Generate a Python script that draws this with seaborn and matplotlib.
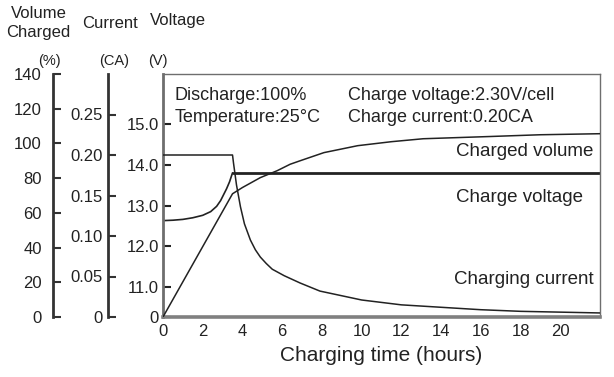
import numpy as np
import pandas as pd
import matplotlib
matplotlib.use("Agg")
import matplotlib.pyplot as plt
import seaborn as sns

# 充电曲线数据
cur_hours = [0, 3.5, 3.55, 3.7, 3.9, 4.1, 4.4, 4.65, 4.9, 5.2, 5.5, 6.1, 6.9, 7.9,
             10, 12, 14, 16, 18, 20, 22]
cur_ca = [0.20, 0.20, 0.19, 0.163, 0.136, 0.115, 0.095, 0.083, 0.074, 0.066, 0.059,
          0.051, 0.042, 0.032, 0.021, 0.015, 0.012, 0.009, 0.007, 0.006, 0.005]

volt_hours = [0, 0.5, 1.0, 1.5, 2.0, 2.4, 2.7, 2.9, 3.2, 3.35, 3.5, 22]
volt_v = [12.63, 12.64, 12.66, 12.70, 12.76, 12.85, 12.98, 13.12, 13.41, 13.58, 13.80, 13.80]

vol_hours = [0, 3.5, 4.0, 4.9, 5.75, 6.4, 6.9, 8.1, 9.8, 11.5, 13.1, 16.5, 19, 22]
vol_pct = [0, 71, 74.6, 80.3, 84.3, 88, 90, 94.7, 98.7, 101, 102.7, 104, 105, 105.6]

x_ticks = list(range(0, 21, 2))
volt_ticks = [11.0, 12.0, 13.0, 14.0, 15.0]
cur_ticks = [0, 0.05, 0.10, 0.15, 0.20, 0.25]
vol_ticks = list(range(0, 141, 20))

sns.set_theme(style="white")
plt.rcParams['font.family'] = ['Liberation Sans', 'DejaVu Sans']

W, H = 614, 377
ink = '#222222'
frame = '#6e6e6e'

fig = plt.figure(figsize=(W / 100, H / 100), dpi=100)
ax = fig.add_axes([163 / W, 1 - 317 / H, 437 / W, 243 / H])

# 电压轴（主轴）
v_lo, v_hi = 10.27, 16.22
sns.lineplot(x=volt_hours[:-1], y=volt_v[:-1], ax=ax, color=ink, lw=1.2)
sns.lineplot(x=volt_hours[-2:], y=volt_v[-2:], ax=ax, color=ink, lw=2.0)
ax.set_xlim(0, 22)
ax.set_ylim(v_lo, v_hi)
ax.set_xticks(x_ticks)
ax.set_xticklabels([str(t) for t in x_ticks])
ax.set_yticks([v_lo] + volt_ticks)
ax.set_yticklabels(['0'] + [f"{t:.1f}" for t in volt_ticks])
ax.tick_params(axis='both', direction='in', length=6, width=1.5, color=ink,
               labelsize=12, labelcolor=ink)
ax.tick_params(axis='y', pad=3)
ax.tick_params(axis='x', pad=5)
ax.set_xlabel('Charging time (hours)', fontsize=15, color=ink, labelpad=5)
ax.set_ylabel('')
for side in ['top', 'right']:
    ax.spines[side].set_color(frame)
    ax.spines[side].set_linewidth(1.0)
ax.spines['left'].set_color(frame)
ax.spines['left'].set_linewidth(2.0)
ax.spines['bottom'].set_color('#808080')
ax.spines['bottom'].set_linewidth(2.6)

# 电流轴
ax_cur = ax.twinx()
sns.lineplot(x=cur_hours, y=cur_ca, ax=ax_cur, color=ink, lw=1.1)
ax_cur.set_ylim(0, 0.30)
ax_cur.set_yticks(cur_ticks)
ax_cur.set_yticklabels(['0'] + [f"{t:.2f}" for t in cur_ticks[1:]])

# 充电量轴
ax_vol = ax.twinx()
sns.lineplot(x=vol_hours, y=vol_pct, ax=ax_vol, color=ink, lw=1.1)
ax_vol.set_ylim(0, 140)
ax_vol.set_yticks(vol_ticks)
ax_vol.set_yticklabels([str(t) for t in vol_ticks])

for tw, pos, pad in [(ax_cur, -55 / 437, 4), (ax_vol, -110 / 437, 8)]:
    for side in ['top', 'right', 'bottom']:
        tw.spines[side].set_visible(False)
    tw.spines['left'].set_visible(True)
    tw.spines['left'].set_position(('axes', pos))
    tw.spines['left'].set_color('#333333')
    tw.spines['left'].set_linewidth(2.0)
    tw.yaxis.tick_left()
    tw.yaxis.set_label_position('left')
    tw.set_ylabel('')
    tw.tick_params(axis='y', direction='in', length=6, width=1.5, color='#333333',
                   labelsize=12, labelcolor=ink, pad=pad)
    tw.set_xlim(0, 22)

# 标题文字
def ftext(x, y, s, size, ha='center'):
    fig.text(x / W, 1 - y / H, s, fontsize=size, color=ink, ha=ha, va='center')

ftext(39, 13, 'Volume', 12)
ftext(38, 33, 'Charged', 12)
ftext(110, 23, 'Current', 12)
ftext(178, 20, 'Voltage', 12)
ftext(49, 61, '(%)', 10.5)
ftext(114, 61, '(CA)', 10.5)
ftext(158, 61, '(V)', 10.5)

ftext(175, 95, 'Discharge:100%', 13, ha='left')
ftext(175, 118, 'Temperature:25°C', 13, ha='left')
ftext(348, 95, 'Charge voltage:2.30V/cell', 13, ha='left')
ftext(348, 118, 'Charge current:0.20CA', 13, ha='left')

ftext(593, 152, 'Charged volume', 13.5, ha='right')
ftext(583, 197, 'Charge voltage', 13.5, ha='right')
ftext(594, 280, 'Charging current', 13.5, ha='right')

fig.savefig('out.png', dpi=100, facecolor='white')
